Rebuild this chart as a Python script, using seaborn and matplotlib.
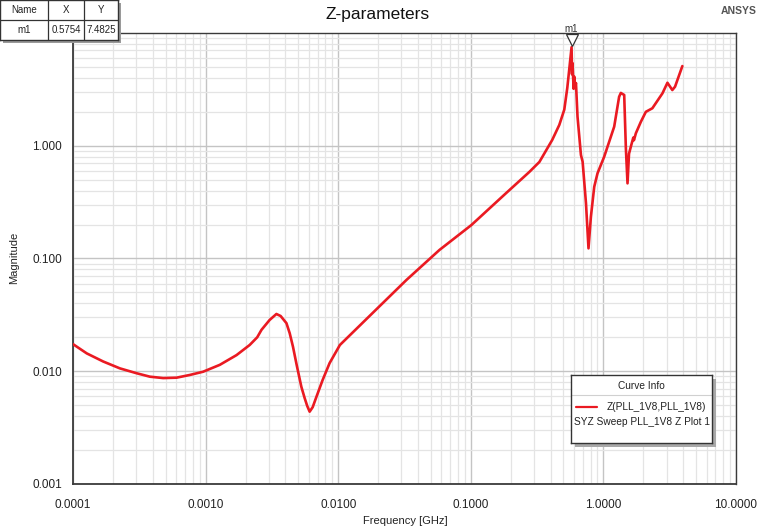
import numpy as np
import pandas as pd
import matplotlib
matplotlib.use("Agg")
import matplotlib.pyplot as plt
import matplotlib.ticker as mticker
from matplotlib.transforms import offset_copy
import seaborn as sns

# ---------------- data ----------------
freq_ghz = [1.0e-4, 1.27e-4, 1.69e-4, 2.26e-4, 3.02e-4, 3.80e-4, 4.79e-4, 6.04e-4,
            7.6e-4, 9.57e-4, 1.28e-3, 1.71e-3, 2.15e-3, 2.45e-3, 2.64e-3, 3.04e-3,
            3.42e-3, 3.68e-3, 4.07e-3, 4.31e-3, 4.56e-3, 4.86e-3, 5.27e-3, 5.58e-3,
            5.84e-3, 6.09e-3, 6.42e-3, 6.84e-3, 7.63e-3, 8.61e-3, 1.03e-2, 1.82e-2,
            3.27e-2, 5.8e-2, 0.101, 0.185, 0.276, 0.329, 0.411, 0.465, 0.507, 0.534,
            0.552, 0.5754, 0.580, 0.585, 0.596, 0.603, 0.612, 0.621, 0.638, 0.677,
            0.697, 0.739, 0.772, 0.805, 0.853, 0.903, 1.014, 1.206, 1.314, 1.354,
            1.435, 1.477, 1.520, 1.560, 1.611, 1.680, 1.700, 1.757, 1.916, 2.09,
            2.34, 2.79, 3.04, 3.31, 3.47, 3.94]
magnitude = [0.0174, 0.0144, 0.0122, 0.0106, 0.0096, 0.00895, 0.0087, 0.00877,
             0.00927, 0.0099, 0.0114, 0.0139, 0.0171, 0.0200, 0.0233, 0.0285,
             0.0322, 0.0309, 0.0267, 0.0217, 0.0165, 0.0114, 0.0073, 0.0058,
             0.00492, 0.00438, 0.0048, 0.0059, 0.00836, 0.0118, 0.0171, 0.0329,
             0.0645, 0.119, 0.198, 0.381, 0.585, 0.718, 1.125, 1.53, 2.09, 3.25,
             4.69, 7.4825, 4.3, 5.4, 3.2, 4.1, 3.3, 3.6, 1.81, 0.828,
             0.722, 0.309, 0.123, 0.235, 0.433, 0.570, 0.800, 1.476, 2.72, 2.94,
             2.82, 0.955, 0.464, 0.85, 0.982, 1.18, 1.12, 1.29, 1.63, 2.00,
             2.15, 2.92, 3.62, 3.12, 3.34, 5.09]

marker_name = "m1"
marker_x = 0.5754
marker_y = 7.4825

x_ticks = [1e-4, 1e-3, 1e-2, 1e-1, 1.0, 10.0]
x_ticklabels = ["0.0001", "0.0010", "0.0100", "0.1000", "1.0000", "10.0000"]
y_ticks = [1e-3, 1e-2, 1e-1, 1.0]
y_ticklabels = ["0.001", "0.010", "0.100", "1.000"]

title = "Z-parameters"
x_label = "Frequency [GHz]"
y_label = "Magnitude"
curve_name = "Z(PLL_1V8,PLL_1V8)"
curve_source = "SYZ Sweep PLL_1V8 Z Plot 1"

df = pd.DataFrame({"freq": freq_ghz, "mag": magnitude})

# ---------------- style ----------------
sns.set_style("white")
plt.rcParams["font.family"] = ["Liberation Sans", "DejaVu Sans"]

W, H = 760, 529
fig = plt.figure(figsize=(W / 100, H / 100), dpi=100)
fig.patch.set_facecolor("white")

L, R, T, B = 73, 736, 33, 484
ax = fig.add_axes([L / W, 1 - B / H, (R - L) / W, (B - T) / H])

red = "#ea1a22"
sns.lineplot(data=df, x="freq", y="mag", ax=ax, color=red, linewidth=1.9,
             sort=False, estimator=None, legend=False, zorder=5)

ax.set_xscale("log")
ax.set_yscale("log")
ax.set_xlim(1e-4, 10)
ax.set_ylim(1e-3, 10)

ax.xaxis.set_major_locator(mticker.FixedLocator(x_ticks))
ax.xaxis.set_major_formatter(mticker.FixedFormatter(x_ticklabels))
ax.yaxis.set_major_locator(mticker.FixedLocator(y_ticks))
ax.yaxis.set_major_formatter(mticker.FixedFormatter(y_ticklabels))
ax.xaxis.set_minor_locator(mticker.LogLocator(base=10, subs=np.arange(2, 10), numticks=100))
ax.yaxis.set_minor_locator(mticker.LogLocator(base=10, subs=np.arange(2, 10), numticks=100))
ax.xaxis.set_minor_formatter(mticker.NullFormatter())
ax.yaxis.set_minor_formatter(mticker.NullFormatter())

ax.grid(True, which="major", color="#c4c4c4", linewidth=1.0)
ax.grid(True, which="minor", color="#e4e4e4", linewidth=0.9)
ax.set_axisbelow(True)

ax.tick_params(axis="both", which="major", direction="out", length=5, width=1,
               color="#404040", labelsize=8.5, labelcolor="#222222", pad=3)
ax.tick_params(axis="both", which="minor", direction="out", length=3, width=0.8,
               color="#404040")
ax.tick_params(axis="x", which="major", pad=6)
for side in ["left", "bottom"]:
    ax.spines[side].set_color("#3a3a3a")
    ax.spines[side].set_linewidth(1.3)
for side in ["top", "right"]:
    ax.spines[side].set_color("#3a3a3a")
    ax.spines[side].set_linewidth(1.0)

ax.set_xlabel("")
ax.set_ylabel("")
fig.text(405 / W, 1 - 521 / H, x_label, ha="center", va="center", fontsize=8, color="#222222")
fig.text(14 / W, 1 - 258 / H, y_label, ha="center", va="center", rotation=90,
         fontsize=8, color="#222222")

# title and brand
fig.text(378 / W, 1 - 15 / H, title, ha="center", va="center", fontsize=12.5, color="#111111")
fig.text(757 / W, 1 - 11 / H, "ANSYS", ha="right", va="center", fontsize=7.5,
         fontweight="bold", color="#555555")

# marker m1
tri_tr = offset_copy(ax.transData, fig=fig, x=0, y=7, units="dots")
ax.plot([marker_x], [marker_y], marker="v", markersize=8, markerfacecolor="white",
        markeredgecolor="#333333", markeredgewidth=0.9, linestyle="none",
        transform=tri_tr, clip_on=False, zorder=10)
txt_tr = offset_copy(ax.transData, fig=fig, x=0, y=18, units="dots")
ax.text(marker_x, marker_y, marker_name, transform=txt_tr, ha="center", va="center",
        fontsize=7, color="#333333", clip_on=False, zorder=10)

# ---------------- marker table (top-left) ----------------
tw, th = 118, 40
shadow = fig.add_axes([3 / W, 1 - (th + 3) / H, tw / W, th / H])
shadow.set_facecolor("#9a9a9a")
shadow.set_xticks([]); shadow.set_yticks([])
for s in shadow.spines.values():
    s.set_visible(False)
tab = fig.add_axes([0 / W, 1 - th / H, tw / W, th / H])
tab.set_xlim(0, tw); tab.set_ylim(th, 0)
tab.set_facecolor("white")
tab.set_xticks([]); tab.set_yticks([])
for s in tab.spines.values():
    s.set_color("#333333"); s.set_linewidth(1.0)
tab.axhline(20, color="#333333", linewidth=0.9)
tab.axvline(48, color="#333333", linewidth=0.9)
tab.axvline(84, color="#333333", linewidth=0.9)
tab.text(24, 10, "Name", ha="center", va="center", fontsize=7, color="#222222")
tab.text(66, 10, "X", ha="center", va="center", fontsize=7, color="#222222")
tab.text(101, 10, "Y", ha="center", va="center", fontsize=7, color="#222222")
tab.text(24, 30, marker_name, ha="center", va="center", fontsize=7, color="#222222")
tab.text(66, 30, f"{marker_x:.4f}", ha="center", va="center", fontsize=7, color="#222222")
tab.text(101, 30, f"{marker_y:.4f}", ha="center", va="center", fontsize=7, color="#222222")

# ---------------- curve info box ----------------
lx0, ly0, lx1, ly1 = 571, 375, 712, 443
lw_, lh_ = lx1 - lx0, ly1 - ly0
lsh = fig.add_axes([(lx0 + 4) / W, 1 - (ly1 + 4) / H, lw_ / W, lh_ / H])
lsh.set_facecolor("#a8a8a8")
lsh.set_xticks([]); lsh.set_yticks([])
for s in lsh.spines.values():
    s.set_visible(False)
leg = fig.add_axes([lx0 / W, 1 - ly1 / H, lw_ / W, lh_ / H])
leg.set_xlim(0, lw_); leg.set_ylim(lh_, 0)
leg.set_facecolor("white")
leg.set_xticks([]); leg.set_yticks([])
for s in leg.spines.values():
    s.set_color("#333333"); s.set_linewidth(1.0)
leg.axhline(20, color="#d0d0d0", linewidth=0.8)
leg.text(lw_ / 2, 11, "Curve Info", ha="center", va="center", fontsize=7.3, color="#222222")
leg.plot([5, 26], [32, 32], color=red, linewidth=1.6)
leg.text(36, 32, curve_name, ha="left", va="center", fontsize=7.3, color="#222222")
leg.text(lw_ / 2, 47, curve_source, ha="center", va="center", fontsize=7.3, color="#222222")

fig.savefig("out.png", dpi=100, facecolor="white")
